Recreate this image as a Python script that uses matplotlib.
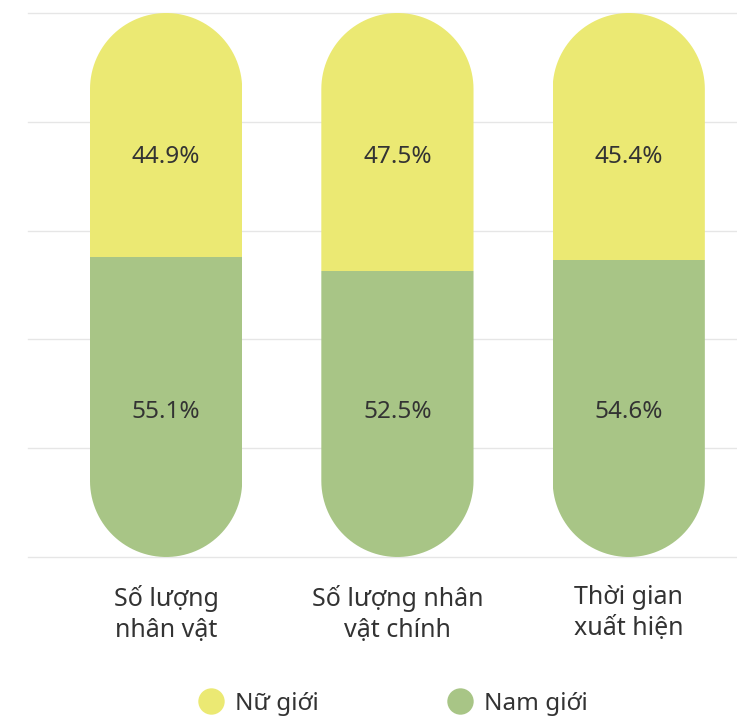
import matplotlib
matplotlib.use("Agg")
import matplotlib.pyplot as plt
from matplotlib.patches import Polygon
from matplotlib.lines import Line2D
import numpy as np

categories = ["Số lượng\nnhân vật", "Số lượng nhân\nvật chính", "Thời gian\nxuất hiện"]
female = [44.9, 47.5, 45.4]
male = [55.1, 52.5, 54.6]
series_names = ["Nữ giới", "Nam giới"]
female_color = "#EBE973"
male_color = "#A8C586"
text_color = "#333333"

plt.rcParams['font.family'] = ['Noto Sans', 'DejaVu Sans']

W, H = 737, 721
fig = plt.figure(figsize=(W / 100, H / 100), dpi=100)
ax = fig.add_axes([28 / W, (H - 557) / H, (W - 28) / W, (557 - 13) / H])

x = np.arange(len(categories))
width = 0.658
ax.set_xlim(-0.597, 2.468)
ax.set_ylim(0, 100)

# aspect for rounded caps (circle in display space)
p0 = ax.transData.transform((0, 0))
p1 = ax.transData.transform((1, 1))
aspect = (p1[0] - p0[0]) / (p1[1] - p0[1])


def capsule(xc, w, top):
    rx = w / 2
    ry = rx * aspect
    t_bot = np.linspace(np.pi, 2 * np.pi, 60)
    t_top = np.linspace(0, np.pi, 60)
    bot = np.column_stack([xc + rx * np.cos(t_bot), ry + ry * np.sin(t_bot)])
    tp = np.column_stack([xc + rx * np.cos(t_top), top - ry + ry * np.sin(t_top)])
    return np.vstack([bot, tp])


for i in range(len(categories)):
    total = female[i] + male[i]
    cap = Polygon(capsule(x[i], width, total), closed=True,
                  transform=ax.transData, facecolor="none", edgecolor="none")
    ax.add_patch(cap)
    b1 = ax.bar(x[i], male[i], width, color=male_color, zorder=2)
    b2 = ax.bar(x[i], female[i], width, bottom=male[i], color=female_color, zorder=2)
    for r in list(b1) + list(b2):
        r.set_clip_path(cap)
    ax.text(x[i], 73.6, f"{female[i]}%", ha="center", va="center",
            fontsize=17.5, color=text_color, zorder=3)
    ax.text(x[i], 26.7, f"{male[i]}%", ha="center", va="center",
            fontsize=17.5, color=text_color, zorder=3)

ax.set_yticks(np.arange(0, 101, 20))
ax.set_xticks(x)
ax.set_xticklabels(categories, fontsize=18, color=text_color, linespacing=1.32)
ax.tick_params(axis="x", length=0, pad=20)
ax.tick_params(axis="y", length=0, labelleft=False)
ax.grid(axis="y", color="#e6e6e6", linewidth=1)
ax.set_axisbelow(True)
for ln in ax.get_ygridlines():
    ln.set_clip_on(False)
for s in ax.spines.values():
    s.set_visible(False)

handles = [Line2D([], [], marker="o", linestyle="none", markersize=19,
                  markerfacecolor=female_color, markeredgecolor="none"),
           Line2D([], [], marker="o", linestyle="none", markersize=19,
                  markerfacecolor=male_color, markeredgecolor="none")]
fig.legend(handles, series_names, loc="center", ncol=2,
           bbox_to_anchor=(393 / W, (H - 704) / H), frameon=False,
           fontsize=17.5, labelcolor=text_color, handletextpad=0.5,
           columnspacing=5.3, handlelength=1.0)

fig.savefig("out.png", dpi=100, facecolor="white")
